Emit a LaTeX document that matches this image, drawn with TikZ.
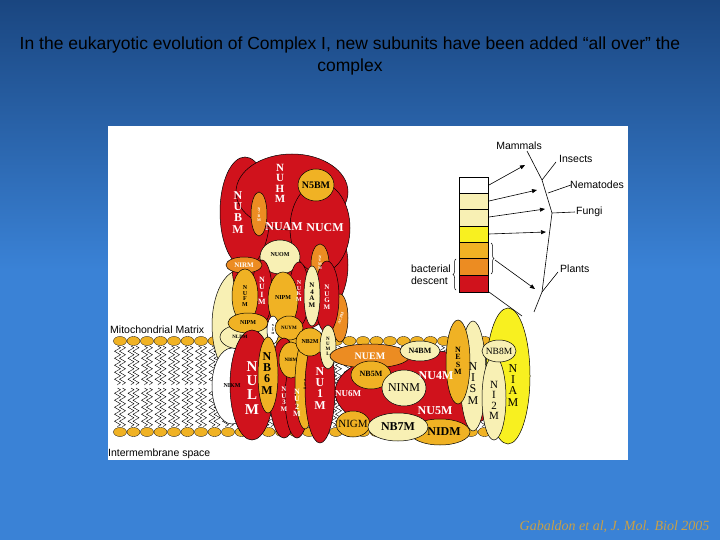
\documentclass[tikz,border=0pt]{standalone}
\usepackage{fontspec}
\setmainfont{Liberation Serif}
\setsansfont{Liberation Sans}
\usetikzlibrary{decorations.pathmorphing,decorations.pathreplacing,arrows.meta}
\definecolor{cr}{HTML}{D0121C}
\definecolor{cg}{HTML}{F0B224}
\definecolor{co}{HTML}{EC8C22}
\definecolor{cp}{HTML}{F8F0B4}
\definecolor{cy}{HTML}{F8F020}
\definecolor{bgtop}{HTML}{1A4680}
\definecolor{bgbot}{HTML}{3A82D6}
\definecolor{cite}{HTML}{C8A048}
\newcommand{\vt}[1]{\renewcommand\arraystretch{0.95}\begin{tabular}{@{}c@{}}#1\end{tabular}}
\tikzset{
 pr/.style={draw=black,line width=0.5pt},
 wl/.style={text=white,font=\bfseries\fontsize{#1}{#1}\selectfont,inner sep=0pt},
 bl/.style={text=black,font=\bfseries\fontsize{#1}{#1}\selectfont,inner sep=0pt},
 lab/.style={font=\sffamily\fontsize{10.5}{12}\selectfont,inner sep=1pt},
 arr/.style={-{Triangle[length=5pt,width=4pt]},line width=0.6pt},
}
\begin{document}
\begin{tikzpicture}[x=1pt,y=-1pt]
\useasboundingbox (0,0) rectangle (720,540);
\shade[top color=bgtop,bottom color=bgbot,middle color=bgbot] (0,0) rectangle (720,540);
\node[font=\sffamily\fontsize{17.5}{22}\selectfont,text=black,align=center] (title) at (350,56) {In the eukaryotic evolution of Complex I, new subunits have been added “all over” the\\complex};
\fill[white] (108,126) rectangle (628,460);
% membrane
\foreach \x in {120,133.5,...,520}{
 \foreach \d in {-2.5,2.5}{
  \draw[line width=0.4pt,decorate,decoration={zigzag,segment length=7,amplitude=3}] (\x+\d,346)--(\x+\d,385);
  \draw[line width=0.4pt,decorate,decoration={zigzag,segment length=7,amplitude=3}] (\x+\d,388)--(\x+\d,427);}
 \path[pr,fill=cg,line width=0.3pt] (\x,341) ellipse (6.5 and 4.5);
 \path[pr,fill=cg,line width=0.3pt] (\x,432) ellipse (6.5 and 4.5);
}
% big backgrounds
\path[pr,fill=cp] (240,325) ellipse (28 and 55);
\path[pr,fill=cr] (290,265) ellipse (58 and 68);
\path[pr,fill=cr] (245,212) ellipse (25 and 55);
\path[pr,fill=cr] (292,192) ellipse (56 and 38);
\path[pr,fill=cr] (320,228) ellipse (30 and 45);
\path[pr,fill=co] (340,318) ellipse (8 and 24);
\path[pr,fill=cr] (420,392) ellipse (85 and 42);
% top part
\path[pr,fill=cg] (316,185) ellipse (18 and 16);
\path[pr,fill=co] (259,214) ellipse (8 and 22);
\path[pr,fill=cp] (280,257) ellipse (20 and 17);
\path[pr,fill=co] (320,264) ellipse (9 and 20);
\path[pr,fill=cr] (327,297) ellipse (12 and 36);
\path[pr,fill=cr] (299,294) ellipse (10 and 32);
\path[pr,fill=cp] (312,296) ellipse (8 and 30);
\path[pr,fill=cr] (262,292) ellipse (10 and 32);
\path[pr,fill=co] (244,265) ellipse (18 and 8);
\path[pr,fill=cg] (245,296) ellipse (13 and 27);
\path[pr,fill=cg] (283,300) ellipse (15 and 28);
\path[pr,fill=cp] (240,337) ellipse (20 and 12);
\path[pr,fill=cg] (248,323) ellipse (20 and 10);
\path[pr,fill=white] (273,330) ellipse (6 and 14);
\path[pr,fill=cg] (289,328) ellipse (14 and 12);
% lower left
\path[pr,fill=white] (232,386) ellipse (20 and 38);
\path[pr,fill=cr] (252,385) ellipse (22 and 55);
\path[pr,fill=cr] (284,388) ellipse (15 and 50);
\path[pr,fill=cg] (268,375) ellipse (10 and 38);
\path[pr,fill=cr] (297,398) ellipse (12 and 40);
\path[pr,fill=cg] (291,360) ellipse (12 and 18);
\path[pr,fill=cg] (305,384) ellipse (10 and 45);
\path[pr,fill=cr] (320,388) ellipse (15 and 55);
\path[pr,fill=cg] (310,342) ellipse (14 and 14);
\path[pr,fill=cp] (328,347) ellipse (8 and 22);
% lower right
\path[pr,fill=co] (370,356) ellipse (40 and 12);
\path[pr,fill=cp] (420,351) ellipse (20 and 10);
\path[pr,fill=cg] (371,375) ellipse (20 and 14);
\path[pr,fill=cp] (404,388) ellipse (22 and 18);
\path[pr,fill=cg] (440,432) ellipse (30 and 13);
\path[pr,fill=cg] (353,424) ellipse (17 and 13);
\path[pr,fill=cp] (398,427) ellipse (30 and 14);
\path[pr,fill=cy] (508,376) ellipse (22 and 68);
\path[pr,fill=cp] (473,376) ellipse (13 and 55);
\path[pr,fill=cg] (458,362) ellipse (12 and 42);
\path[pr,fill=cp] (494,398) ellipse (12 and 42);
\path[pr,fill=cp] (499,351) ellipse (17 and 11);
% labels
\node[wl=12] (nubm) at (238,214) {\vt{N\\U\\B\\M}};
\node[wl=11] (nuhm) at (280,185) {\vt{N\\U\\H\\M}};
\node[bl=10] (n5bm) at (316,185) {N5BM};
\node[wl=4] (n7bm) at (259,215) {\vt{N\\7\\B\\M}};
\node[wl=12] (nuam) at (284,227) {NUAM};
\node[wl=12] (nucm) at (325,228) {NUCM};
\node[bl=6] (nuom) at (280,255) {NUOM};
\node[wl=4] (numm) at (320,263) {\vt{N\\U\\M\\M}};
\node[wl=7] (nirm) at (244,265) {NIRM};
\node[bl=6] (nufm) at (245,297) {\vt{N\\U\\F\\M}};
\node[wl=8] (nuim) at (262,292) {\vt{N\\U\\I\\M}};
\node[wl=6] (nukm) at (299,292) {\vt{N\\U\\K\\M}};
\node[bl=6] (nipm1) at (283,298) {NIPM};
\node[bl=7] (n4am) at (312,296) {\vt{N\\4\\A\\M}};
\node[bl=7,text=white] (nugm) at (327,298) {\vt{N\\U\\G\\M}};
\node[wl=4,rotate=70] (acpm) at (341,318) {ACPM};
\node[bl=6] (nipm2) at (248,323) {NIPM};
\node[bl=5] (nldm) at (240,337) {NLDM};
\node[bl=3] (nivm) at (273,330) {\vt{N\\I\\V\\M}};
\node[bl=5] (nuym) at (289,328) {NUYM};
\node[bl=6] (nb2m) at (310,342) {NB2M};
\node[bl=5] (numl) at (328,347) {\vt{N\\U\\M\\L}};
\node[bl=6] (nikm) at (232,386) {NIKM};
\node[wl=15] (nulm) at (252,390) {\vt{N\\U\\L\\M}};
\node[bl=12] (nb6m) at (267,375) {\vt{N\\B\\6\\M}};
\node[wl=7] (nu3m) at (284,400) {\vt{N\\U\\3\\M}};
\node[bl=5] (ni8m) at (291,360) {NI8M};
\node[bl=3] (ni9m) at (305,385) {\vt{N\\I\\9\\M}};
\node[wl=8] (nu2m) at (297,404) {\vt{N\\U\\2\\M}};
\node[wl=12] (nu1m) at (320,390) {\vt{N\\U\\1\\M}};
\node[wl=10] (nuem) at (370,356) {NUEM};
\node[bl=8] (n4bm) at (420,351) {N4BM};
\node[bl=8] (nb5m) at (371,374) {NB5M};
\node[font=\fontsize{12}{12}\selectfont,inner sep=0pt] (ninm) at (404,388) {NINM};
\node[wl=12] (nu4m) at (436,376) {NU4M};
\node[wl=9] (nu6m) at (348,394) {NU6M};
\node[wl=12] (nu5m) at (435,411) {NU5M};
\node[font=\fontsize{11}{11}\selectfont,inner sep=0pt] (nigm) at (353,424) {NIGM};
\node[bl=12] (nb7m) at (398,427) {NB7M};
\node[bl=12] (nidm) at (444,432) {NIDM};
\node[bl=8] (nesm) at (458,362) {\vt{N\\E\\S\\M}};
\node[font=\fontsize{12}{12}\selectfont,inner sep=0pt] (nism) at (473,385) {\vt{N\\I\\S\\M}};
\node[font=\fontsize{12}{12}\selectfont,inner sep=0pt] (niam) at (513,387) {\vt{N\\I\\A\\M}};
\node[font=\fontsize{11}{11}\selectfont,inner sep=0pt] (ni2m) at (494,402) {\vt{N\\I\\2\\M}};
\node[font=\fontsize{9.5}{10}\selectfont,inner sep=0pt] (nb8m) at (499,351) {NB8M};
\node[lab,anchor=west] (mm) at (109,330) {Mitochondrial Matrix};
\node[lab,anchor=west] (ims) at (107,454) {Intermembrane space};
% legend
\foreach \a/\b/\c in {177/193/white,193/209/cp,209/226/cp,226/242/cy,242/258/cg,258/275/co,275/292/cr}
 \draw[line width=0.5pt,fill=\c] (459,\a) rectangle (488,\b);
\coordinate (b1) at (489,185); \coordinate (b2) at (489,201);
\coordinate (b3) at (489,217); \coordinate (b4) at (489,234);
\coordinate (t0) at (527,151); \coordinate (t1) at (542,180);
\coordinate (t2) at (552,213); \coordinate (t3) at (542,292); \coordinate (t4) at (534,312);
\draw[line width=0.6pt] (t0)--(t1)--(t2)--(t3)--(t4);
\draw[line width=0.6pt] (t1)--(556,162); \draw[line width=0.6pt] (548,193)--(571,185);
\draw[line width=0.6pt] (t2)--(575,212); \draw[line width=0.6pt] (t3)--(558,272);
\draw[line width=0.6pt] (489,292)--(522,316);
\draw[arr] (b1)--(525,165); \draw[arr] (b2)--(537,190); \draw[arr] (b3)--(545,209); \draw[arr] (b4)--(546,232);
\draw[decorate,decoration={brace,amplitude=3pt},line width=0.5pt] (491,243)--(491,274);
\draw[arr] (495,260)--(535,289);
\draw[decorate,decoration={brace,amplitude=3pt},line width=0.5pt] (456,290)--(456,259);
\node[lab] (mam) at (519,146) {Mammals};
\node[lab,anchor=west] (ins) at (558,159) {Insects};
\node[lab,anchor=west] (nem) at (569,185) {Nematodes};
\node[lab,anchor=west] (fun) at (575,212) {Fungi};
\node[lab,anchor=west] (pla) at (559,269) {Plants};
\node[lab,align=left,anchor=east] (bd) at (452,275) {bacterial\\descent};
\node[font=\itshape\fontsize{14}{14}\selectfont,text=cite,anchor=east] (cit) at (713,527) {Gabaldon et al, J. Mol. Biol 2005};
\end{tikzpicture}
\end{document}
